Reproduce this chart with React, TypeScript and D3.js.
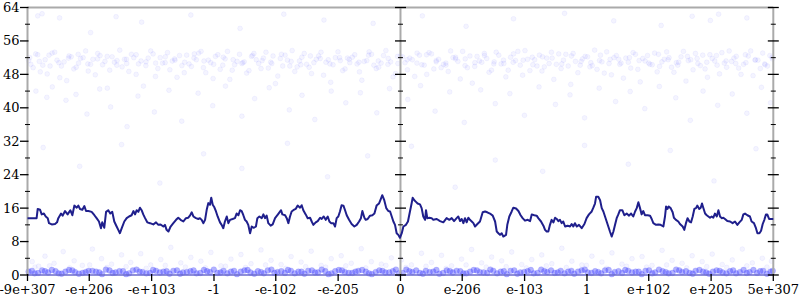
import React from 'react';
import * as d3 from 'd3';

// x positions of data are given in "bit space": the IEEE-754 bit pattern of |x| / 2^52, signed
const xDomainValues = [-9e307, 5e307];
const xTickValues = [-9e307, -1e206, -1e103, -1, -1e-102, -1e-205, 0, 1e-206, 1e-103, 1, 1e102, 1e205, 5e307];
const xTickLabels = ['-9e+307', '-e+206', '-e+103', '-1', '-e-102', '-e-205', '0', 'e-206', 'e-103', '1', 'e+102', 'e+205', '5e+307'];
const yMajorTicks = [0, 8, 16, 24, 32, 40, 48, 56, 64];
const yMinorTicks = [4, 12, 20, 28, 36, 44, 52, 60];

// running line [bitPos, value]
const lineData: [number, number][] = [
  [-2046, 13.6], [-1996, 13.6], [-1990, 15.8], [-1977, 15.6], [-1968, 14.5], [-1956, 14.7], [-1946, 14.0], [-1935, 13.6],
  [-1928, 12.4], [-1913, 12.1], [-1895, 12.2], [-1884, 12.6], [-1877, 13.6], [-1862, 14.7], [-1853, 14.2], [-1840, 15.3],
  [-1826, 14.5], [-1811, 15.5], [-1800, 14.3], [-1789, 16.6], [-1776, 16.1], [-1767, 16.6], [-1758, 15.8], [-1745, 15.6],
  [-1734, 16.5], [-1725, 15.3], [-1712, 15.3], [-1694, 15.1], [-1679, 14.3], [-1667, 13.6], [-1654, 12.8], [-1643, 11.2],
  [-1636, 12.6], [-1625, 11.3], [-1615, 15.1], [-1603, 15.5], [-1592, 14.7], [-1581, 15.1], [-1570, 12.8], [-1557, 11.6],
  [-1548, 10.8], [-1539, 10.0], [-1529, 11.2], [-1515, 12.8], [-1502, 13.6], [-1489, 14.0], [-1475, 14.3], [-1465, 15.3],
  [-1456, 14.5], [-1447, 15.5], [-1438, 15.1], [-1429, 16.1], [-1420, 15.5], [-1411, 14.5], [-1401, 13.6], [-1389, 12.6],
  [-1374, 12.4], [-1356, 12.1], [-1341, 12.6], [-1328, 12.0], [-1316, 12.1], [-1301, 11.6], [-1292, 12.0], [-1283, 10.8],
  [-1273, 10.4], [-1261, 11.6], [-1246, 12.4], [-1231, 13.2], [-1219, 13.7], [-1206, 13.2], [-1191, 12.8], [-1177, 13.6],
  [-1164, 13.7], [-1155, 14.2], [-1145, 15.0], [-1136, 14.0], [-1122, 13.6], [-1109, 13.4], [-1100, 13.6], [-1091, 13.2],
  [-1081, 12.4], [-1072, 13.2], [-1063, 15.6], [-1054, 17.2], [-1045, 16.8], [-1038, 18.5], [-1030, 16.8], [-1021, 16.2],
  [-1012, 15.2], [-1003, 14.0], [-990, 12.6], [-981, 12.0], [-972, 11.2], [-963, 12.8], [-953, 14.0], [-944, 12.4],
  [-935, 13.2], [-921, 13.4], [-908, 13.6], [-899, 14.7], [-889, 14.3], [-880, 15.5], [-871, 15.3], [-862, 14.3],
  [-853, 13.2], [-844, 12.8], [-835, 12.0], [-825, 10.0], [-816, 11.6], [-804, 11.3], [-793, 11.6], [-785, 13.6],
  [-774, 14.0], [-761, 13.6], [-752, 14.5], [-743, 13.6], [-734, 14.2], [-725, 12.4], [-712, 11.8], [-701, 12.1],
  [-688, 13.6], [-672, 14.5], [-655, 15.5], [-648, 14.5], [-633, 14.3], [-624, 13.6], [-615, 12.4], [-606, 14.0],
  [-597, 15.2], [-588, 15.5], [-575, 15.8], [-564, 16.6], [-551, 16.1], [-542, 16.7], [-533, 15.5], [-520, 14.5],
  [-509, 13.6], [-496, 13.7], [-487, 12.8], [-478, 12.0], [-465, 12.6], [-454, 12.9], [-441, 13.7], [-432, 13.4],
  [-421, 14.0], [-410, 13.2], [-399, 14.0], [-390, 12.8], [-381, 12.4], [-368, 12.4], [-359, 11.6], [-350, 13.6],
  [-341, 14.0], [-332, 15.2], [-323, 16.7], [-313, 16.6], [-304, 15.5], [-295, 14.3], [-282, 13.2], [-268, 12.2],
  [-253, 11.6], [-240, 12.0], [-227, 12.8], [-217, 13.6], [-209, 15.3], [-198, 13.7], [-191, 13.2], [-180, 13.4],
  [-167, 14.2], [-154, 14.3], [-143, 14.7], [-131, 16.6], [-118, 17.1], [-107, 18.3], [-100, 19.1], [-89, 17.9],
  [-78, 16.0], [-67, 15.3], [-57, 15.2], [-48, 14.0], [-39, 12.8], [-30, 12.0], [-21, 10.0], [-12, 9.6],
  [-3, 8.9], [7, 10.0], [16, 11.6], [30, 12.0], [41, 12.8], [52, 15.2], [61, 17.1], [67, 18.5],
  [76, 17.9], [85, 17.5], [94, 17.1], [107, 16.9], [116, 16.0], [125, 14.0], [135, 13.2], [140, 15.5],
  [147, 13.6], [158, 13.7], [171, 13.6], [180, 13.2], [199, 13.4], [217, 12.9], [235, 12.6], [253, 13.6],
  [268, 13.2], [281, 13.6], [294, 12.9], [308, 13.6], [317, 14.0], [327, 12.9], [336, 13.4], [345, 12.4],
  [354, 13.6], [363, 12.6], [372, 13.7], [381, 13.2], [391, 12.8], [400, 12.4], [409, 11.6], [422, 12.2],
  [436, 12.8], [451, 15.0], [464, 15.2], [476, 15.0], [491, 14.7], [506, 14.2], [519, 12.8], [528, 10.4],
  [537, 10.0], [546, 9.6], [555, 10.0], [564, 9.2], [579, 9.6], [586, 12.0], [597, 14.0], [610, 15.2],
  [619, 16.1], [634, 15.9], [647, 15.3], [659, 14.3], [670, 13.6], [683, 13.0], [698, 13.2], [711, 12.9],
  [720, 14.5], [734, 14.3], [747, 14.2], [756, 13.6], [771, 12.8], [784, 11.8], [793, 10.8], [802, 10.4],
  [811, 10.4], [820, 12.0], [829, 13.2], [839, 12.6], [848, 13.7], [857, 13.4], [866, 12.9], [875, 13.2],
  [884, 12.4], [893, 12.8], [903, 11.6], [917, 11.8], [930, 11.6], [939, 12.2], [948, 11.6], [957, 12.4],
  [967, 11.6], [979, 12.0], [994, 11.2], [1009, 12.2], [1021, 13.6], [1034, 14.5], [1049, 15.2], [1058, 16.1],
  [1067, 17.1], [1073, 18.7], [1085, 18.7], [1095, 17.9], [1104, 16.0], [1113, 15.2], [1122, 14.0], [1131, 12.8],
  [1140, 11.6], [1149, 10.4], [1159, 9.2], [1168, 10.4], [1177, 12.0], [1186, 13.6], [1195, 14.5], [1204, 15.5],
  [1217, 15.5], [1228, 14.3], [1241, 14.7], [1254, 14.2], [1265, 14.7], [1277, 14.0], [1287, 15.2], [1296, 16.0],
  [1305, 17.4], [1314, 16.0], [1323, 14.5], [1332, 15.3], [1341, 14.3], [1356, 14.3], [1369, 14.2], [1378, 13.4],
  [1387, 12.4], [1402, 12.0], [1415, 12.1], [1427, 12.0], [1442, 11.6], [1451, 14.0], [1457, 16.4], [1464, 15.8],
  [1471, 16.4], [1482, 16.0], [1493, 15.0], [1500, 13.7], [1511, 13.2], [1524, 12.8], [1533, 12.2], [1548, 11.6],
  [1557, 10.8], [1566, 12.4], [1575, 13.6], [1585, 12.8], [1594, 12.6], [1603, 14.0], [1612, 15.8], [1621, 16.0],
  [1628, 16.6], [1639, 15.8], [1647, 16.1], [1654, 17.1], [1661, 16.1], [1671, 14.7], [1680, 14.3], [1689, 14.0],
  [1698, 13.7], [1707, 14.0], [1716, 13.7], [1725, 14.7], [1735, 14.0], [1744, 15.5], [1753, 14.0], [1762, 13.6],
  [1771, 13.7], [1780, 13.4], [1793, 12.9], [1808, 12.8], [1822, 12.4], [1835, 12.8], [1848, 12.0], [1859, 12.6],
  [1872, 13.2], [1881, 14.5], [1890, 14.7], [1903, 14.3], [1917, 14.0], [1926, 12.8], [1939, 12.4], [1950, 11.2],
  [1958, 10.0], [1969, 10.0], [1978, 10.6], [1987, 12.2], [1996, 13.2], [2005, 14.5], [2012, 14.5], [2022, 13.4],
  [2045, 13.4],
];

// upper cluster of samples [bitPos, value]
const upperSamples: [number, number][] = [
  [-2040, 51.3], [-2015, 49.6], [-1990, 52.7], [-1962, 50.2], [-1938, 48.1], [-1911, 53.1], [-1884, 51.4], [-1860, 50.0],
  [-1831, 46.5], [-1806, 52.2], [-1779, 49.7], [-1755, 51.8], [-1727, 53.6], [-1700, 50.4], [-1674, 47.9], [-1648, 52.5],
  [-1621, 51.1], [-1595, 49.0], [-1569, 50.9], [-1540, 53.8], [-1514, 51.6], [-1490, 48.7], [-1463, 52.0], [-1437, 50.5],
  [-1410, 45.2], [-1384, 51.9], [-1357, 52.9], [-1331, 49.4], [-1305, 50.7], [-1278, 53.2], [-1252, 51.2], [-1226, 47.3],
  [-1199, 50.1], [-1173, 52.6], [-1147, 49.9], [-1120, 51.5], [-1094, 53.5], [-1068, 48.4], [-1041, 50.8], [-1015, 52.3],
  [-989, 49.2], [-962, 51.7], [-936, 46.8], [-910, 50.3], [-883, 52.8], [-857, 51.0], [-831, 48.9], [-804, 53.0],
  [-778, 50.6], [-752, 51.9], [-725, 49.5], [-699, 52.4], [-673, 47.6], [-646, 50.0], [-620, 51.4], [-594, 53.7],
  [-567, 49.8], [-541, 52.1], [-515, 50.4], [-488, 48.2], [-462, 51.6], [-436, 53.3], [-409, 50.9], [-383, 46.1],
  [-357, 52.0], [-330, 51.3], [-304, 49.3], [-278, 50.8], [-251, 52.7], [-225, 48.6], [-199, 51.1], [-172, 53.4],
  [-146, 50.2], [-120, 49.7], [-93, 52.5], [-67, 51.8], [-41, 47.4], [-14, 50.6], [12, 52.2], [38, 49.1],
  [65, 51.5], [91, 53.1], [117, 50.3], [144, 48.0], [170, 52.9], [196, 51.0], [223, 49.6], [249, 50.7],
  [275, 53.6], [302, 51.7], [328, 46.9], [354, 50.1], [381, 52.4], [407, 49.9], [433, 51.2], [460, 53.0],
  [486, 48.5], [512, 50.5], [539, 52.6], [565, 51.4], [591, 49.0], [618, 50.9], [644, 53.5], [670, 47.8],
  [697, 51.6], [723, 52.1], [749, 50.0], [776, 48.8], [802, 51.9], [828, 53.3], [855, 50.4], [881, 49.4],
  [907, 52.8], [934, 45.6], [960, 51.1], [986, 50.2], [1013, 52.3], [1039, 49.8], [1065, 53.8], [1092, 51.3],
  [1118, 48.3], [1144, 50.6], [1171, 52.0], [1197, 51.6], [1223, 47.1], [1250, 50.9], [1276, 53.2], [1302, 49.2],
  [1329, 51.8], [1355, 52.5], [1381, 50.3], [1408, 48.6], [1434, 51.0], [1460, 53.4], [1487, 49.7], [1513, 50.8],
  [1539, 52.2], [1566, 46.4], [1592, 51.5], [1618, 53.0], [1645, 50.1], [1671, 49.3], [1697, 52.7], [1724, 51.2],
  [1750, 48.1], [1776, 50.7], [1803, 53.6], [1829, 51.9], [1855, 49.5], [1882, 50.4], [1908, 52.4], [1934, 47.7],
  [1961, 51.4], [1987, 53.1], [2013, 50.0], [2040, 51.7],
  [-2028, 50.4], [-2001, 52.9], [-1976, 48.6], [-1949, 51.5], [-1922, 50.0], [-1897, 53.3], [-1869, 47.2], [-1845, 51.0],
  [-1818, 52.4], [-1792, 49.3], [-1766, 50.7], [-1741, 52.0], [-1713, 48.8], [-1687, 51.6], [-1661, 53.0], [-1634, 50.3],
  [-1608, 44.7], [-1582, 52.2], [-1555, 51.3], [-1527, 49.8], [-1502, 50.6], [-1476, 52.8], [-1450, 48.0], [-1423, 51.2],
  [-1397, 50.1], [-1370, 53.6], [-1344, 47.5], [-1318, 52.0], [-1291, 50.8], [-1265, 49.1], [-1239, 51.7], [-1212, 52.5],
  [-1186, 48.4], [-1160, 50.5], [-1133, 51.9], [-1107, 53.1], [-1081, 49.6], [-1054, 51.4], [-1028, 47.0], [-1002, 52.7],
  [-975, 50.2], [-949, 53.5], [-923, 49.0], [-896, 51.1], [-870, 50.6], [-844, 48.3], [-817, 52.3], [-791, 51.5],
  [-765, 49.4], [-738, 53.3], [-712, 50.9], [-686, 45.8], [-659, 51.8], [-633, 52.6], [-607, 50.0], [-580, 48.7],
  [-554, 51.2], [-528, 53.0], [-501, 49.7], [-475, 50.8], [-449, 52.4], [-422, 47.8], [-396, 51.5], [-370, 50.3],
  [-343, 53.4], [-317, 48.9], [-291, 51.9], [-264, 52.1], [-238, 50.5], [-212, 46.6], [-185, 51.3], [-159, 52.8],
  [-133, 49.4], [-106, 50.7], [-80, 53.7], [-54, 51.0], [-27, 48.2], [-1, 52.4], [25, 50.8], [51, 51.9],
  [78, 47.5], [104, 52.6], [130, 50.2], [157, 53.2], [183, 49.3], [209, 51.6], [236, 50.4], [262, 48.7],
  [288, 52.0], [315, 51.1], [341, 53.5], [367, 49.6], [394, 45.9], [420, 52.3], [446, 50.9], [473, 51.8],
  [499, 49.0], [525, 53.3], [552, 50.5], [578, 47.4], [604, 52.1], [631, 51.3], [657, 50.2], [683, 53.7],
  [710, 48.9], [736, 51.5], [762, 52.6], [789, 49.8], [815, 50.6], [841, 46.8], [868, 52.9], [894, 51.4],
  [920, 50.0], [947, 53.0], [973, 48.4], [999, 51.7], [1026, 52.2], [1052, 50.1], [1078, 49.2], [1105, 51.0],
  [1131, 53.4], [1157, 47.9], [1184, 52.5], [1210, 50.7], [1236, 51.9], [1263, 49.5], [1289, 52.8], [1315, 46.2],
  [1342, 51.2], [1368, 50.4], [1394, 53.1], [1421, 49.9], [1447, 51.6], [1473, 52.0], [1500, 48.5], [1526, 50.9],
  [1552, 53.5], [1579, 51.3], [1605, 49.1], [1631, 50.6], [1658, 52.6], [1684, 47.3], [1710, 51.8], [1737, 50.2],
  [1763, 53.2], [1789, 49.7], [1816, 51.1], [1842, 52.3], [1868, 48.0], [1895, 50.8], [1921, 53.6], [1947, 51.5],
  [1974, 49.4], [2000, 50.3], [2026, 52.5],
  [-2034, 52.0], [-1981, 51.1], [-1928, 52.6], [-1874, 50.8], [-1821, 51.9], [-1768, 52.8], [-1715, 50.5], [-1662, 51.7],
  [-1609, 52.3], [-1556, 50.2], [-1503, 51.6], [-1450, 52.7], [-1396, 51.0], [-1343, 50.7], [-1290, 52.2], [-1237, 51.4],
  [-1184, 50.9], [-1131, 52.9], [-1078, 51.2], [-1025, 50.4], [-972, 52.1], [-918, 51.5], [-865, 50.8], [-812, 52.5],
  [-759, 51.3], [-706, 50.6], [-653, 52.8], [-600, 51.1], [-547, 50.3], [-494, 52.4], [-440, 51.8], [-387, 50.5],
  [-334, 52.0], [-281, 51.6], [-228, 50.9], [-175, 52.6], [-122, 51.2], [-69, 50.4], [-16, 52.3], [37, 51.5],
  [90, 50.7], [143, 52.7], [196, 51.3], [249, 50.2], [302, 52.1], [355, 51.7], [408, 50.8], [461, 52.5],
  [514, 51.0], [567, 50.6], [620, 52.9], [673, 51.4], [726, 50.3], [779, 52.2], [832, 51.9], [885, 50.5],
  [938, 52.4], [991, 51.1], [1044, 50.8], [1097, 52.6], [1150, 51.6], [1203, 50.4], [1256, 52.0], [1309, 51.3],
  [1362, 50.7], [1415, 52.8], [1468, 51.5], [1521, 50.2], [1574, 52.3], [1627, 51.8], [1680, 50.9], [1733, 52.5],
  [1786, 51.2], [1839, 50.6], [1892, 52.7], [1945, 51.4], [1998, 50.5], [2038, 52.1],
];

// scattered outlying samples [bitPos, value]
const outlierSamples: [number, number][] = [
  [-1990, 62.0], [-1966, 62.5], [-1870, 61.5], [-1700, 58.0], [-1560, 61.8], [-1420, 60.5], [-1150, 62.2], [-880, 59.0],
  [-640, 62.4], [-420, 61.0], [-150, 60.2], [120, 62.0], [360, 59.5], [620, 61.3], [900, 62.6], [1170, 60.8],
  [1430, 59.7], [1600, 61.9], [1700, 60.9], [1745, 62.4], [1900, 61.5],
  [-2000, 44.0], [-1940, 42.5], [-1910, 45.0], [-1835, 41.8], [-1780, 43.2], [-1720, 38.5], [-1650, 44.5], [-1590, 40.2],
  [-1500, 35.5], [-1440, 42.8], [-1350, 39.0], [-1270, 44.2], [-1200, 36.8], [-1110, 43.5], [-1030, 40.5], [-960, 45.2],
  [-870, 38.0], [-800, 42.2], [-720, 44.8], [-610, 39.5], [-540, 43.0], [-470, 37.2], [-380, 44.0], [-300, 41.2],
  [-220, 43.6], [-130, 38.8], [-60, 44.6], [40, 42.0], [110, 45.3], [190, 39.2], [270, 43.8], [350, 36.5],
  [440, 44.3], [520, 41.0], [600, 43.4], [680, 38.2], [760, 45.0], [850, 40.8], [930, 43.1], [1010, 37.6],
  [1090, 44.7], [1180, 41.5], [1260, 43.9], [1340, 39.8], [1420, 45.1], [1510, 42.4], [1590, 37.0], [1660, 44.0],
  [1740, 40.6], [1820, 43.3], [1900, 38.7], [1980, 44.9], [2030, 41.2],
  [-1960, 30.5], [-1760, 26.0], [-1530, 31.2], [-1320, 22.0], [-1080, 29.0], [-870, 25.5], [-620, 31.5], [-400, 23.5],
  [-180, 28.5], [60, 30.8], [300, 21.0], [520, 27.5], [780, 24.8], [1010, 31.0], [1250, 26.5], [1480, 29.8],
  [1720, 22.5], [1950, 30.2],
  [-2020, 3.2], [-1985, 2.1], [-1950, 4.5], [-1900, 2.8], [-1850, 5.6], [-1790, 3.4], [-1745, 2.3], [-1690, 6.2],
  [-1640, 3.9], [-1585, 2.6], [-1530, 4.8], [-1480, 3.0], [-1425, 5.1], [-1370, 2.4], [-1315, 3.7], [-1260, 6.6],
  [-1205, 2.9], [-1150, 4.2], [-1095, 3.3], [-1040, 5.4], [-985, 2.2], [-930, 3.8], [-875, 4.9], [-820, 2.7],
  [-765, 6.0], [-710, 3.5], [-655, 2.5], [-600, 4.4], [-545, 3.1], [-490, 5.7], [-435, 2.3], [-380, 3.9],
  [-325, 4.6], [-270, 2.8], [-215, 6.3], [-160, 3.2], [-105, 2.6], [-50, 4.1], [5, 3.6], [60, 2.4],
  [115, 5.2], [170, 3.0], [225, 4.7], [280, 2.2], [335, 3.8], [390, 6.1], [445, 2.9], [500, 4.3],
  [555, 3.4], [610, 5.5], [665, 2.5], [720, 3.7], [775, 4.8], [830, 2.7], [885, 6.4], [940, 3.3],
  [995, 2.4], [1050, 4.5], [1105, 3.1], [1160, 5.3], [1215, 2.6], [1270, 3.9], [1325, 4.4], [1380, 2.3],
  [1435, 5.9], [1490, 3.5], [1545, 2.8], [1600, 4.6], [1655, 3.2], [1710, 5.0], [1765, 2.5], [1820, 3.6],
  [1875, 6.2], [1930, 2.9], [1985, 4.0], [2035, 3.3],
  [-2005, 1.9], [-1925, 2.2], [-1815, 1.7], [-1705, 2.4], [-1610, 1.8], [-1505, 2.0], [-1395, 1.6], [-1290, 2.3],
  [-1180, 1.9], [-1070, 1.7], [-960, 2.1], [-850, 1.8], [-740, 2.4], [-630, 1.6], [-520, 2.0], [-410, 1.9],
  [-300, 2.2], [-190, 1.7], [-80, 2.3], [30, 1.8], [140, 2.1], [250, 1.6], [360, 2.4], [470, 1.9],
  [580, 2.0], [690, 1.7], [800, 2.2], [910, 1.8], [1020, 2.3], [1130, 1.6], [1240, 2.1], [1350, 1.9],
  [1460, 2.4], [1570, 1.7], [1680, 2.0], [1790, 1.8], [1900, 2.2], [2010, 1.9],
];

// dense band of samples near zero [bitPos, value]
const lowerSamples: [number, number][] = [
  [-2040, 0.8], [-2007, 0.4], [-1966, 1.1], [-1933, 0.6], [-1892, 0.9], [-1859, 0.3], [-1818, 1.2], [-1785, 0.7],
  [-1744, 0.5], [-1711, 1.0], [-1670, 0.8], [-1637, 0.2], [-1596, 1.1], [-1563, 0.6], [-1522, 0.9], [-1489, 0.4],
  [-1448, 1.3], [-1415, 0.7], [-1374, 0.5], [-1341, 1.0], [-1300, 0.8], [-1267, 0.3], [-1226, 1.1], [-1193, 0.6],
  [-1152, 0.9], [-1119, 0.4], [-1078, 1.2], [-1045, 0.7], [-1004, 0.5], [-971, 1.0], [-930, 0.8], [-897, 0.2],
  [-856, 1.1], [-823, 0.6], [-782, 0.9], [-749, 0.4], [-708, 1.3], [-675, 0.7], [-634, 0.5], [-601, 1.0],
  [-560, 0.8], [-527, 0.3], [-486, 1.1], [-453, 0.6], [-412, 0.9], [-379, 0.4], [-338, 1.2], [-305, 0.7],
  [-264, 0.5], [-231, 1.0], [-190, 0.8], [-157, 0.2], [-116, 1.1], [-83, 0.6], [-42, 0.9], [-9, 0.4],
  [32, 1.3], [65, 0.7], [106, 0.5], [139, 1.0], [180, 0.8], [213, 0.3], [254, 1.1], [287, 0.6],
  [328, 0.9], [361, 0.4], [402, 1.2], [435, 0.7], [476, 0.5], [509, 1.0], [550, 0.8], [583, 0.2],
  [624, 1.1], [657, 0.6], [698, 0.9], [731, 0.4], [772, 1.3], [805, 0.7], [846, 0.5], [879, 1.0],
  [920, 0.8], [953, 0.3], [994, 1.1], [1027, 0.6], [1068, 0.9], [1101, 0.4], [1142, 1.2], [1175, 0.7],
  [1216, 0.5], [1249, 1.0], [1290, 0.8], [1323, 0.2], [1364, 1.1], [1397, 0.6], [1438, 0.9], [1471, 0.4],
  [1512, 1.3], [1545, 0.7], [1586, 0.5], [1619, 1.0], [1660, 0.8], [1693, 0.3], [1734, 1.1], [1767, 0.6],
  [1808, 0.9], [1841, 0.4], [1882, 1.2], [1915, 0.7], [1956, 0.5], [1989, 1.0], [2030, 0.8],
  [-2022, 1.0], [-1988, 0.5], [-1950, 0.9], [-1912, 1.2], [-1875, 0.4], [-1838, 0.8], [-1800, 1.1], [-1764, 0.3],
  [-1727, 0.7], [-1690, 1.0], [-1652, 0.6], [-1616, 1.3], [-1579, 0.5], [-1542, 0.9], [-1505, 0.2], [-1468, 1.1],
  [-1431, 0.8], [-1394, 0.4], [-1357, 1.2], [-1320, 0.6], [-1283, 0.9], [-1246, 1.0], [-1209, 0.3], [-1172, 0.7],
  [-1135, 1.1], [-1098, 0.5], [-1061, 0.9], [-1024, 1.3], [-987, 0.6], [-950, 0.4], [-913, 1.0], [-876, 0.8],
  [-839, 1.2], [-802, 0.3], [-765, 0.7], [-728, 1.1], [-691, 0.5], [-654, 0.9], [-617, 1.2], [-580, 0.4],
  [-543, 0.8], [-506, 1.0], [-469, 0.6], [-432, 1.3], [-395, 0.2], [-358, 0.9], [-321, 1.1], [-284, 0.5],
  [-247, 0.8], [-210, 1.2], [-173, 0.4], [-136, 0.7], [-99, 1.0], [-62, 0.6], [-25, 1.3], [12, 0.5],
  [49, 0.9], [86, 1.1], [123, 0.3], [160, 0.7], [197, 1.2], [234, 0.5], [271, 0.9], [308, 1.0],
  [345, 0.4], [382, 0.8], [419, 1.1], [456, 0.6], [493, 1.3], [530, 0.4], [567, 0.9], [604, 1.0],
  [641, 0.3], [678, 0.7], [715, 1.2], [752, 0.5], [789, 0.9], [826, 1.1], [863, 0.6], [900, 0.4],
  [937, 1.0], [974, 0.8], [1011, 1.3], [1048, 0.5], [1085, 0.7], [1122, 1.1], [1159, 0.2], [1196, 0.9],
  [1233, 1.2], [1270, 0.6], [1307, 0.8], [1344, 1.0], [1381, 0.4], [1418, 1.3], [1455, 0.7], [1492, 0.5],
  [1529, 1.1], [1566, 0.9], [1603, 0.3], [1640, 1.2], [1677, 0.6], [1714, 0.8], [1751, 1.0], [1788, 0.4],
  [1825, 1.1], [1862, 0.7], [1899, 0.5], [1936, 1.2], [1973, 0.9], [2010, 0.3], [2042, 1.0],
];

function toBitPos(x: number): number {
  const dv = new DataView(new ArrayBuffer(8));
  dv.setFloat64(0, Math.abs(x));
  const v = (dv.getUint32(0) * 4294967296 + dv.getUint32(4)) / 4503599627370496;
  return x < 0 ? -v : v;
}

const W = 800;
const H = 300;
const left = 27.5;
const right = 773.3;
const top = 7.5;
const bottom = 275;

export default function App() {
  const x = d3.scaleLinear().domain(xDomainValues.map(toBitPos)).range([left, right]);
  const y = d3.scaleLinear().domain([0, 64]).range([bottom, top]);
  const line = d3.line<[number, number]>().x(d => x(d[0])).y(d => y(d[1]));
  const mid = x(toBitPos(0));
  const font = 'DejaVu Serif, serif';
  const axisGray = '#aaaaaa';
  const verticals = [mid, right];

  return (
    <svg width={W} height={H} style={{ position: 'absolute', left: 0, top: 0, background: '#fff' }}>
      <rect x={0} y={0} width={W} height={H} fill="#fff" />
      {/* samples */}
      <g fill="#4040ff" stroke="#4040ff">
        {upperSamples.concat(outlierSamples).map((d, i) => (
          <circle key={'u' + i} cx={x(d[0])} cy={y(d[1])} r={2.4} fillOpacity={0.06} strokeOpacity={0.05} strokeWidth={1} />
        ))}
        {lowerSamples.map((d, i) => (
          <circle key={'l' + i} cx={x(d[0])} cy={y(d[1])} r={2.9} fillOpacity={0.4} strokeOpacity={0.15} strokeWidth={1} />
        ))}
      </g>
      {/* frame lines */}
      <line x1={left} x2={right} y1={top} y2={top} stroke={axisGray} strokeWidth={2} />
      <line x1={left} x2={right} y1={bottom} y2={bottom} stroke="#6a6acc" strokeWidth={1.5} />
      <line x1={left} x2={left} y1={top} y2={bottom} stroke={axisGray} strokeWidth={2} />
      {verticals.map((vx, i) => (
        <line key={'v' + i} x1={vx} x2={vx} y1={top} y2={bottom} stroke={axisGray} strokeWidth={2} />
      ))}
      {/* left axis ticks + labels */}
      {yMajorTicks.map(t => (
        <g key={'ly' + t}>
          <line x1={left - 7.5} x2={left + 1} y1={y(t)} y2={y(t)} stroke="#000" strokeWidth={1.3} />
          <text x={left - 8} y={y(t)} dy="0.35em" textAnchor="end" fontFamily={font} fontSize={13} fill="#000">{t}</text>
        </g>
      ))}
      {yMinorTicks.map(t => (
        <line key={'lm' + t} x1={left - 2.5} x2={left + 2.5} y1={y(t)} y2={y(t)} stroke="#000" strokeWidth={1} />
      ))}
      {/* middle and right axes ticks */}
      {verticals.map((vx, i) => (
        <g key={'vt' + i}>
          {yMajorTicks.map(t => (
            <line key={'a' + t} x1={vx - 5.5} x2={vx + 5.5} y1={y(t)} y2={y(t)} stroke="#000" strokeWidth={1.3} />
          ))}
          {yMinorTicks.map(t => (
            <line key={'b' + t} x1={vx - 2.5} x2={vx + 2.5} y1={y(t)} y2={y(t)} stroke="#000" strokeWidth={1} />
          ))}
        </g>
      ))}
      {/* bottom ticks + labels */}
      {xTickValues.map((v, i) => {
        const px = x(toBitPos(v));
        return (
          <g key={'xt' + i}>
            <line x1={px} x2={px} y1={bottom - 1} y2={bottom + 6} stroke="#000" strokeWidth={1.3} />
            <text x={px} y={294} textAnchor="middle" fontFamily={font} fontSize={13} fill="#000">{xTickLabels[i]}</text>
          </g>
        );
      })}
      {/* running line */}
      <path d={line(lineData) || ''} fill="none" stroke="#1f1f8c" strokeWidth={2} strokeLinejoin="round" />
    </svg>
  );
}
